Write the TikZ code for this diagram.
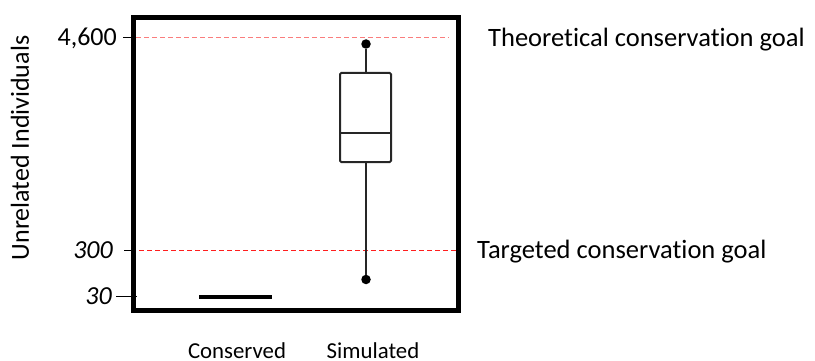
\documentclass[tikz,border=0pt]{standalone}
\usepackage{fontspec}
\setmainfont{Carlito}[Ligatures=NoCommon]
\definecolor{palegoal}{RGB}{250,125,125}
\definecolor{redgoal}{RGB}{255,30,30}
\begin{document}
\begin{tikzpicture}[x=1pt,y=-1pt,
  frame/.style={line width=5pt},
  goalline/.style={line width=1pt, dash pattern=on 5pt off 3pt},
  tick/.style={line width=1pt},
  boxline/.style={line width=2pt, black!85},
  dotend/.style={circle, fill=black, inner sep=0pt, minimum size=9.5pt},
  ticklabel/.style={font=\fontsize{26}{30}\selectfont\itshape, anchor=base east, inner sep=0pt},
  goallabel/.style={font=\fontsize{26.5}{30}\selectfont, anchor=base west, inner sep=0pt},
  catlabel/.style={font=\fontsize{22.8}{26}\selectfont, anchor=base, inner sep=0pt}]
\useasboundingbox (0,0) rectangle (815,361);
% goal lines
\draw[goalline, draw=palegoal] (136,37.5) -- (449,37.5);
\draw[goalline, draw=redgoal] (131,250.5) -- (460,250.5);
% frame
\draw[frame] (133.5,17.5) rectangle (458.5,310.5);
% ticks
\coordinate (t1a) at (123,37.5); \coordinate (t1b) at (131,37.5);
\coordinate (t2a) at (124,250.5); \coordinate (t2b) at (131,250.5);
\coordinate (t3a) at (116,296.5); \coordinate (t3b) at (137,296.5);
\draw[tick] (t1a) -- (t1b);
\draw[tick] (t2a) -- (t2b);
\draw[tick] (t3a) -- (t3b);
% tick labels
\node[ticklabel, font=\fontsize{26}{30}\selectfont] (l4600) at (117,45.5) {4,600};
\node[ticklabel] (l300) at (113,258) {300};
\node[ticklabel] (l30) at (112,304) {30};
% axis label
\node[font=\fontsize{26}{30}\selectfont, rotate=90, inner sep=0pt] (ylab) at (20,148) {Unrelated Individuals};
% conserved
\coordinate (ca) at (199,297) ; \coordinate (cb) at (272,297);
\draw[line width=4pt] (ca) -- (cb);
% simulated box plot
\node[dotend] (top) at (366,44) {};
\node[dotend] (bot) at (366,279.5) {};
\coordinate (q3) at (366,73);
\coordinate (q1) at (366,162);
\draw[boxline, rounded corners=1.2pt] (340,73) rectangle (391,162);
\draw[boxline] (340,133) -- (391,133);
\draw[boxline] (top) -- (q3);
\draw[boxline] (q1) -- (bot);
% goal labels
\node[goallabel] (theo) at (488,47) {Theoretical conservation goal};
\node[goallabel] (targ) at (477,258) {Targeted conservation goal};
% category labels
\node[catlabel] (cons) at (237,358) {Conserved};
\node[catlabel] (sim) at (373,358) {Simulated};
\end{tikzpicture}
\end{document}
